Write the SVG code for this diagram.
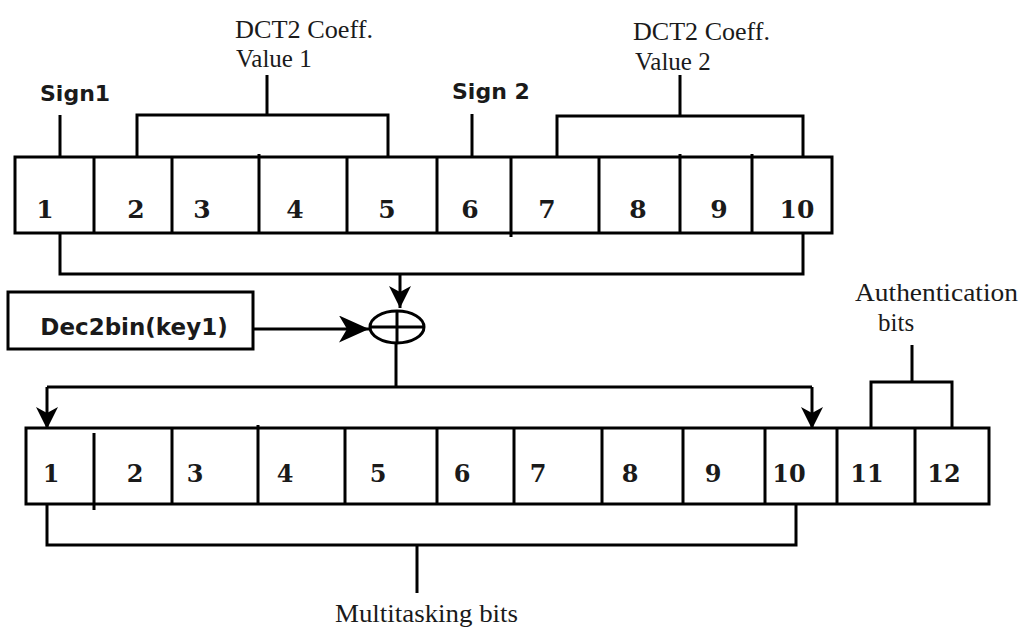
<svg xmlns="http://www.w3.org/2000/svg" width="1025" height="632" viewBox="0 0 1025 632">
  <style>
    .box { fill: #fff; stroke: #000; stroke-width: 3; }
    .div { stroke: #000; stroke-width: 3; fill: none; }
    .wire { stroke: #000; stroke-width: 3; fill: none; }
    .num { font-family: "DejaVu Serif", "Liberation Serif", serif; font-weight: bold; fill: #1a1a1a; text-anchor: middle; }
    .lbl { font-family: "Liberation Serif", "DejaVu Serif", serif; font-size: 25px; fill: #1a1a1a; }
    .bold { font-family: "DejaVu Sans", Verdana, sans-serif; font-weight: bold; fill: #1a1a1a; }
  </style>
  <defs>
    <marker id="arrow" markerUnits="userSpaceOnUse" markerWidth="22" markerHeight="22" refX="22" refY="11" orient="auto" viewBox="0 0 22 22">
      <path d="M0,0 L22,11 L0,22 L6,11 Z" fill="#000"/>
    </marker>
    <marker id="arrowLg" markerUnits="userSpaceOnUse" markerWidth="30" markerHeight="27" refX="30" refY="13.5" orient="auto" viewBox="0 0 30 27">
      <path d="M0,0 L30,13.5 L0,27 L8,13.5 Z" fill="#000"/>
    </marker>
  </defs>
  <rect width="1025" height="632" fill="#fff"/>

  <!-- input register: sign + coefficient bits -->
  <g id="register-in">
    <rect class="box" x="15" y="157" width="817" height="76"/>
    <path class="div" d="M94,157 V233 M172,157 V233 M259,154 V233 M347,157 V233 M437,157 V233 M511,157 V237 M599,157 V233 M680,154 V233 M752,154 V233"/>
    <g class="num" font-size="25">
      <text x="45" y="218">1</text>
      <text x="136" y="218">2</text>
      <text x="202" y="218">3</text>
      <text x="295" y="218">4</text>
      <text x="387" y="218">5</text>
      <text x="470" y="218">6</text>
      <text x="547" y="218">7</text>
      <text x="638" y="218">8</text>
      <text x="719" y="218">9</text>
      <text x="797" y="218">10</text>
    </g>
  </g>

  <!-- field labels above the input register -->
  <g id="sign1">
    <text class="bold" x="40" y="101" font-size="22">Sign1</text>
  </g>
  <g id="sign2">
    <text class="bold" x="452" y="99" font-size="22">Sign 2</text>
  </g>
  <g id="coeff1">
    <text class="lbl" x="235" y="38" textLength="138" lengthAdjust="spacingAndGlyphs">DCT2 Coeff.</text>
    <text class="lbl" x="236" y="67">Value 1</text>
  </g>
  <g id="coeff2">
    <text class="lbl" x="633" y="40" textLength="137" lengthAdjust="spacingAndGlyphs">DCT2 Coeff.</text>
    <text class="lbl" x="635" y="70">Value 2</text>
  </g>

  <!-- key block -->
  <g id="key">
    <rect class="box" x="8" y="292" width="245" height="57"/>
    <text class="bold" x="134" y="335" font-size="23" text-anchor="middle">Dec2bin(key1)</text>
  </g>

  <!-- XOR operator -->
  <g id="xor">
    <ellipse cx="397" cy="327" rx="27" ry="16" fill="#fff" stroke="#000" stroke-width="3"/>
    <path class="div" d="M370,327 H424 M397,311 V343"/>
  </g>

  <!-- output register: multitasking + authentication bits -->
  <g id="register-out">
    <rect class="box" x="26" y="428" width="963" height="76"/>
    <path class="div" d="M94,433 V510 M172,428 V504 M258,425 V504 M345,428 V504 M437,428 V504 M514,428 V504 M602,428 V504 M683,428 V504 M765,428 V504 M837,428 V504 M915,428 V504"/>
    <g class="num" font-size="24">
      <text x="51" y="482">1</text>
      <text x="135" y="482">2</text>
      <text x="195" y="482">3</text>
      <text x="285" y="482">4</text>
      <text x="378" y="482">5</text>
      <text x="462" y="482">6</text>
      <text x="538" y="482">7</text>
      <text x="630" y="482">8</text>
      <text x="713" y="482">9</text>
      <text x="789" y="482">10</text>
      <text x="867" y="482">11</text>
      <text x="944" y="482">12</text>
    </g>
  </g>

  <g id="auth-label">
    <text class="lbl" x="855" y="301" textLength="163" lengthAdjust="spacingAndGlyphs">Authentication</text>
    <text class="lbl" x="878" y="331">bits</text>
  </g>
  <g id="multi-label">
    <text class="lbl" x="335" y="622" textLength="183" lengthAdjust="spacingAndGlyphs">Multitasking bits</text>
  </g>

  <!-- connectors and brackets -->
  <g id="connectors">
    <path class="wire" d="M60,115 V157"/>
    <path class="wire" d="M472,114 V157"/>
    <path class="wire" d="M137,157 V115 H388 V157 M267,115 V75"/>
    <path class="wire" d="M557,157 V116 H803 V157 M680,116 V75"/>
    <path class="wire" d="M60,233 V274 H803 V233"/>
    <line class="wire" x1="400" y1="274" x2="400" y2="308" marker-end="url(#arrow)"/>
    <line class="wire" x1="253" y1="329" x2="369" y2="329" marker-end="url(#arrowLg)"/>
    <path class="wire" d="M396,343 V387"/>
    <path class="wire" d="M47,387 H812"/>
    <line class="wire" x1="47" y1="387" x2="47" y2="429" marker-end="url(#arrow)"/>
    <line class="wire" x1="812" y1="387" x2="812" y2="429" marker-end="url(#arrow)"/>
    <path class="wire" d="M871,428 V382 H952 V428 M912,382 V345"/>
    <path class="wire" d="M47,504 V545 H796 V504 M417,545 V593"/>
  </g>
</svg>
